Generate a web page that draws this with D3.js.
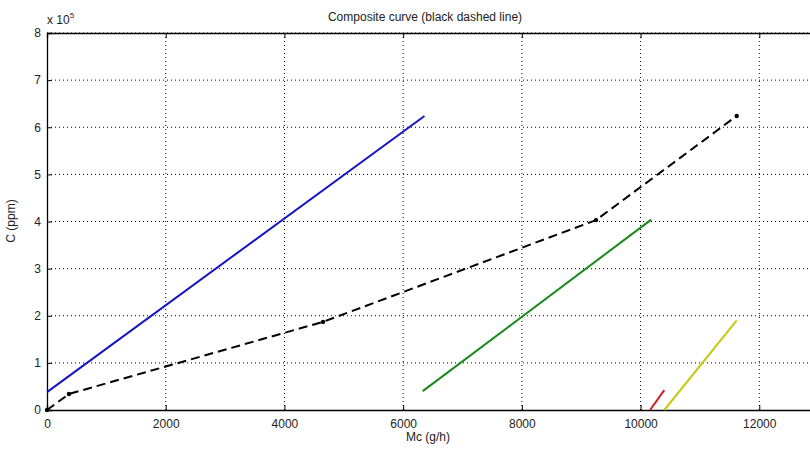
<!DOCTYPE html>
<meta charset="utf-8">
<body style="margin:0;background:#fff">
<style>
  text { font-family: Arial, "Liberation Sans", sans-serif; fill: #222; }
  .grid line { stroke: #000; stroke-width: 1px; stroke-dasharray: 1,3; }
</style>
<script src="https://d3js.org/d3.v7.min.js"></script>
<script>
  var width = 810, height = 450;
  var margin = {left: 47, top: 33, bottom: 40};
  var plotRight = 878; // axes extend beyond the cropped picture

  // stream lines (Mc in g/h, C in ppm)
  var blueX = [0, 6360], blueY = [38000, 624000];
  var greenX = [6330, 10180], greenY = [40000, 404000];
  var redX = [10160, 10400], redY = [0, 42000];
  var yellowX = [10400, 11620], yellowY = [0, 190000];
  // composite curve breakpoints
  var compX = [0, 370, 4650, 9250, 11620];
  var compY = [0, 34000, 187000, 403000, 624000];

  var xTicks = [0, 2000, 4000, 6000, 8000, 10000, 12000];
  var yTicks = [0, 1, 2, 3, 4, 5, 6, 7, 8];

  var x = d3.scaleLinear().domain([0, 14000]).range([margin.left, plotRight]);
  var y = d3.scaleLinear().domain([0, 800000]).range([height - margin.bottom, margin.top]);

  var svg = d3.select("body").append("svg")
    .attr("width", width)
    .attr("height", height);

  var x0 = margin.left, y0 = height - margin.bottom;

  // grid
  var grid = svg.append("g").attr("class", "grid");
  grid.selectAll(".vx").data(xTicks.slice(1)).enter().append("line")
    .attr("x1", function(d) { return x(d); }).attr("x2", function(d) { return x(d); })
    .attr("y1", margin.top).attr("y2", y0);
  grid.selectAll(".hy").data(yTicks.slice(1)).enter().append("line")
    .attr("x1", x0).attr("x2", plotRight)
    .attr("y1", function(d) { return y(d * 1e5); }).attr("y2", function(d) { return y(d * 1e5); });

  // axes (matlab style: ticks point inward)
  var xAxis = svg.append("g").attr("transform", "translate(0," + y0 + ")")
    .call(d3.axisBottom(x).tickValues(xTicks).tickSize(-5).tickPadding(9).tickFormat(d3.format("d")));
  var xTop = svg.append("g").attr("transform", "translate(0," + margin.top + ")")
    .call(d3.axisTop(x).tickValues(xTicks).tickSize(-5).tickFormat(""));
  var yAxis = svg.append("g").attr("transform", "translate(" + x0 + ",0)")
    .call(d3.axisLeft(y).tickValues(yTicks.map(function(d) { return d * 1e5; })).tickSize(-5).tickPadding(6)
      .tickFormat(function(d) { return d / 1e5; }));
  [xAxis, xTop, yAxis].forEach(function(a) {
    a.select(".domain").attr("stroke", "#000").attr("stroke-width", 1.3);
    a.selectAll(".tick line").attr("stroke", "#000");
    a.selectAll("text").attr("font-size", 12).attr("fill", "#222");
  });

  var line = d3.line()
    .x(function(d) { return x(d[0]); })
    .y(function(d) { return y(d[1]); });

  function zip(a, b) { return a.map(function(v, i) { return [v, b[i]]; }); }

  var series = [
    {xs: blueX, ys: blueY, color: "#1414c4"},
    {xs: greenX, ys: greenY, color: "#188a18"},
    {xs: redX, ys: redY, color: "#cc2020"},
    {xs: yellowX, ys: yellowY, color: "#c8c812"}
  ];

  svg.selectAll(".stream").data(series).enter().append("path")
    .attr("d", function(d) { return line(zip(d.xs, d.ys)); })
    .attr("fill", "none")
    .attr("stroke", function(d) { return d.color; })
    .attr("stroke-width", 2);

  var comp = zip(compX, compY);
  svg.append("path")
    .attr("d", line(comp))
    .attr("fill", "none")
    .attr("stroke", "#000")
    .attr("stroke-width", 2)
    .attr("stroke-dasharray", "9,5");
  svg.selectAll(".pt").data(comp).enter().append("circle")
    .attr("cx", function(d) { return x(d[0]); })
    .attr("cy", function(d) { return y(d[1]); })
    .attr("r", 2.2)
    .attr("fill", "#000");

  // labels
  svg.append("text").attr("x", 425).attr("y", 21).attr("text-anchor", "middle")
    .attr("font-size", 12).text("Composite curve (black dashed line)");
  svg.append("text").attr("x", 428).attr("y", 441).attr("text-anchor", "middle")
    .attr("font-size", 12).text("Mc (g/h)");
  svg.append("text").attr("transform", "translate(15,221) rotate(-90)").attr("text-anchor", "middle")
    .attr("font-size", 12).text("C (ppm)");
  var ex = svg.append("text").attr("x", 47).attr("y", 24).attr("font-size", 12);
  ex.append("tspan").text("x 10");
  ex.append("tspan").attr("font-size", 8).attr("dy", -6).text("5");
</script>
</body>
